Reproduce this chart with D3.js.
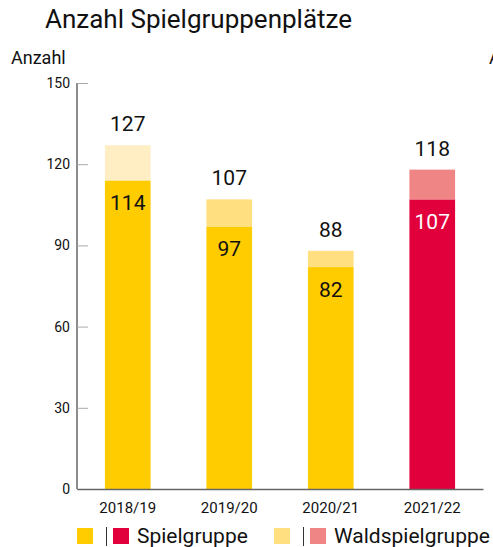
<!DOCTYPE html>
<html>
<head>
<meta charset="utf-8">
<script src="https://cdn.jsdelivr.net/npm/d3@7"></script>
<style>
  body { margin: 0; background: #fff; }
  text { font-family: Roboto, "Noto Sans", sans-serif; }
</style>
</head>
<body>
<div id="chart"></div>
<script>
let years = ["2018/19", "2019/20", "2020/21", "2021/22"];
let spielgruppe = [114, 97, 82, 107];
let waldspielgruppe = [13, 10, 6, 11];
let baseColors = ["#FFCC00", "#FFCC00", "#FFCC00", "#E2003C"];
let topColors = ["#FFEEC4", "#FFDF80", "#FFDF80", "#F08585"];
let yTicks = [0, 30, 60, 90, 120, 150];

let width = 493, height = 547;
let margin = { top: 83, right: 10, bottom: 58, left: 77 };

let svg = d3.select("#chart")
    .append("svg")
    .attr("width", width)
    .attr("height", height);

let x = d3.scaleBand()
    .domain(years)
    .range([margin.left, 483])
    .padding(0);

let y = d3.scaleLinear()
    .domain([0, 150])
    .range([height - margin.bottom, margin.top]);

let barW = x.bandwidth() * 0.45;

// title + axis labels
svg.append("text")
    .attr("x", 45).attr("y", 28)
    .attr("font-size", "26px")
    .attr("fill", "#111")
    .text("Anzahl Spielgruppenplätze");

svg.append("text")
    .attr("x", 11).attr("y", 64)
    .attr("font-size", "18px")
    .attr("fill", "#111")
    .text("Anzahl");

// second label, cut off at the right edge like in the original
svg.append("text")
    .attr("x", 489).attr("y", 64)
    .attr("font-size", "18px")
    .attr("fill", "#111")
    .text("Anzahl");

// y axis
let yAxis = svg.append("g")
    .attr("transform", "translate(" + margin.left + ",0)")
    .call(d3.axisRight(y).tickValues(yTicks).tickSize(11).tickFormat(""));
yAxis.select(".domain").attr("stroke", "#666").attr("stroke-width", 1.5).attr("d", "M0," + y(150) + "V" + y(0));
yAxis.selectAll(".tick line").attr("stroke", "#aaa");

svg.selectAll(".ylabel")
    .data(yTicks)
    .enter()
    .append("text")
    .attr("class", "ylabel")
    .attr("x", 70)
    .attr("y", function (d) { return y(d) + 5 })
    .attr("text-anchor", "end")
    .attr("font-size", "14px")
    .attr("fill", "#111")
    .text(function (d) { return d });

// bars
let bars = svg.selectAll(".bar")
    .data(years)
    .enter()
    .append("g")
    .attr("class", "bar");

bars.append("rect")
    .attr("x", function (d) { return x(d) + (x.bandwidth() - barW) / 2 })
    .attr("y", function (d, i) { return y(spielgruppe[i]) })
    .attr("width", barW)
    .attr("height", function (d, i) { return y(0) - y(spielgruppe[i]) })
    .attr("fill", function (d, i) { return baseColors[i] });

bars.append("rect")
    .attr("x", function (d) { return x(d) + (x.bandwidth() - barW) / 2 })
    .attr("y", function (d, i) { return y(spielgruppe[i] + waldspielgruppe[i]) })
    .attr("width", barW)
    .attr("height", function (d, i) { return y(spielgruppe[i]) - y(spielgruppe[i] + waldspielgruppe[i]) })
    .attr("fill", function (d, i) { return topColors[i] });

bars.append("text")
    .attr("x", function (d) { return x(d) + x.bandwidth() / 2 })
    .attr("y", function (d, i) { return y(spielgruppe[i]) + 30 })
    .attr("text-anchor", "middle")
    .attr("font-size", "21px")
    .attr("fill", function (d, i) { return i === 3 ? "#fff" : "#111" })
    .text(function (d, i) { return spielgruppe[i] });

bars.append("text")
    .attr("x", function (d) { return x(d) + x.bandwidth() / 2 })
    .attr("y", function (d, i) { return y(spielgruppe[i] + waldspielgruppe[i]) - 14 })
    .attr("text-anchor", "middle")
    .attr("font-size", "21px")
    .attr("fill", "#111")
    .text(function (d, i) { return spielgruppe[i] + waldspielgruppe[i] });

// x axis
let xAxis = svg.append("g")
    .attr("transform", "translate(0," + y(0) + ")")
    .call(d3.axisBottom(x).tickSize(0).tickPadding(13));
xAxis.select(".domain").attr("stroke", "#666").attr("stroke-width", 1.5);
xAxis.selectAll("text")
    .attr("font-size", "15px")
    .attr("fill", "#111")
    .style("font-family", "Roboto, sans-serif");

// legend
let legend = [
    { x: 77, colors: ["#FFCC00", "#E2003C"], label: "Spielgruppe" },
    { x: 274, colors: ["#FFDF80", "#F08585"], label: "Waldspielgruppe" }
];
let lg = svg.selectAll(".legend")
    .data(legend)
    .enter()
    .append("g")
    .attr("class", "legend")
    .attr("transform", function (d) { return "translate(" + d.x + ",528)" });

lg.append("rect").attr("x", 0).attr("width", 16).attr("height", 16)
    .attr("fill", function (d) { return d.colors[0] });
lg.append("line").attr("x1", 29.5).attr("x2", 29.5).attr("y1", -1).attr("y2", 18)
    .attr("stroke", "#333").attr("stroke-width", 1);
lg.append("rect").attr("x", 36).attr("width", 16).attr("height", 16)
    .attr("fill", function (d) { return d.colors[1] });
lg.append("text")
    .attr("x", 60).attr("y", 15)
    .attr("font-size", "21px")
    .attr("fill", "#111")
    .text(function (d) { return d.label });
</script>
</body>
</html>
